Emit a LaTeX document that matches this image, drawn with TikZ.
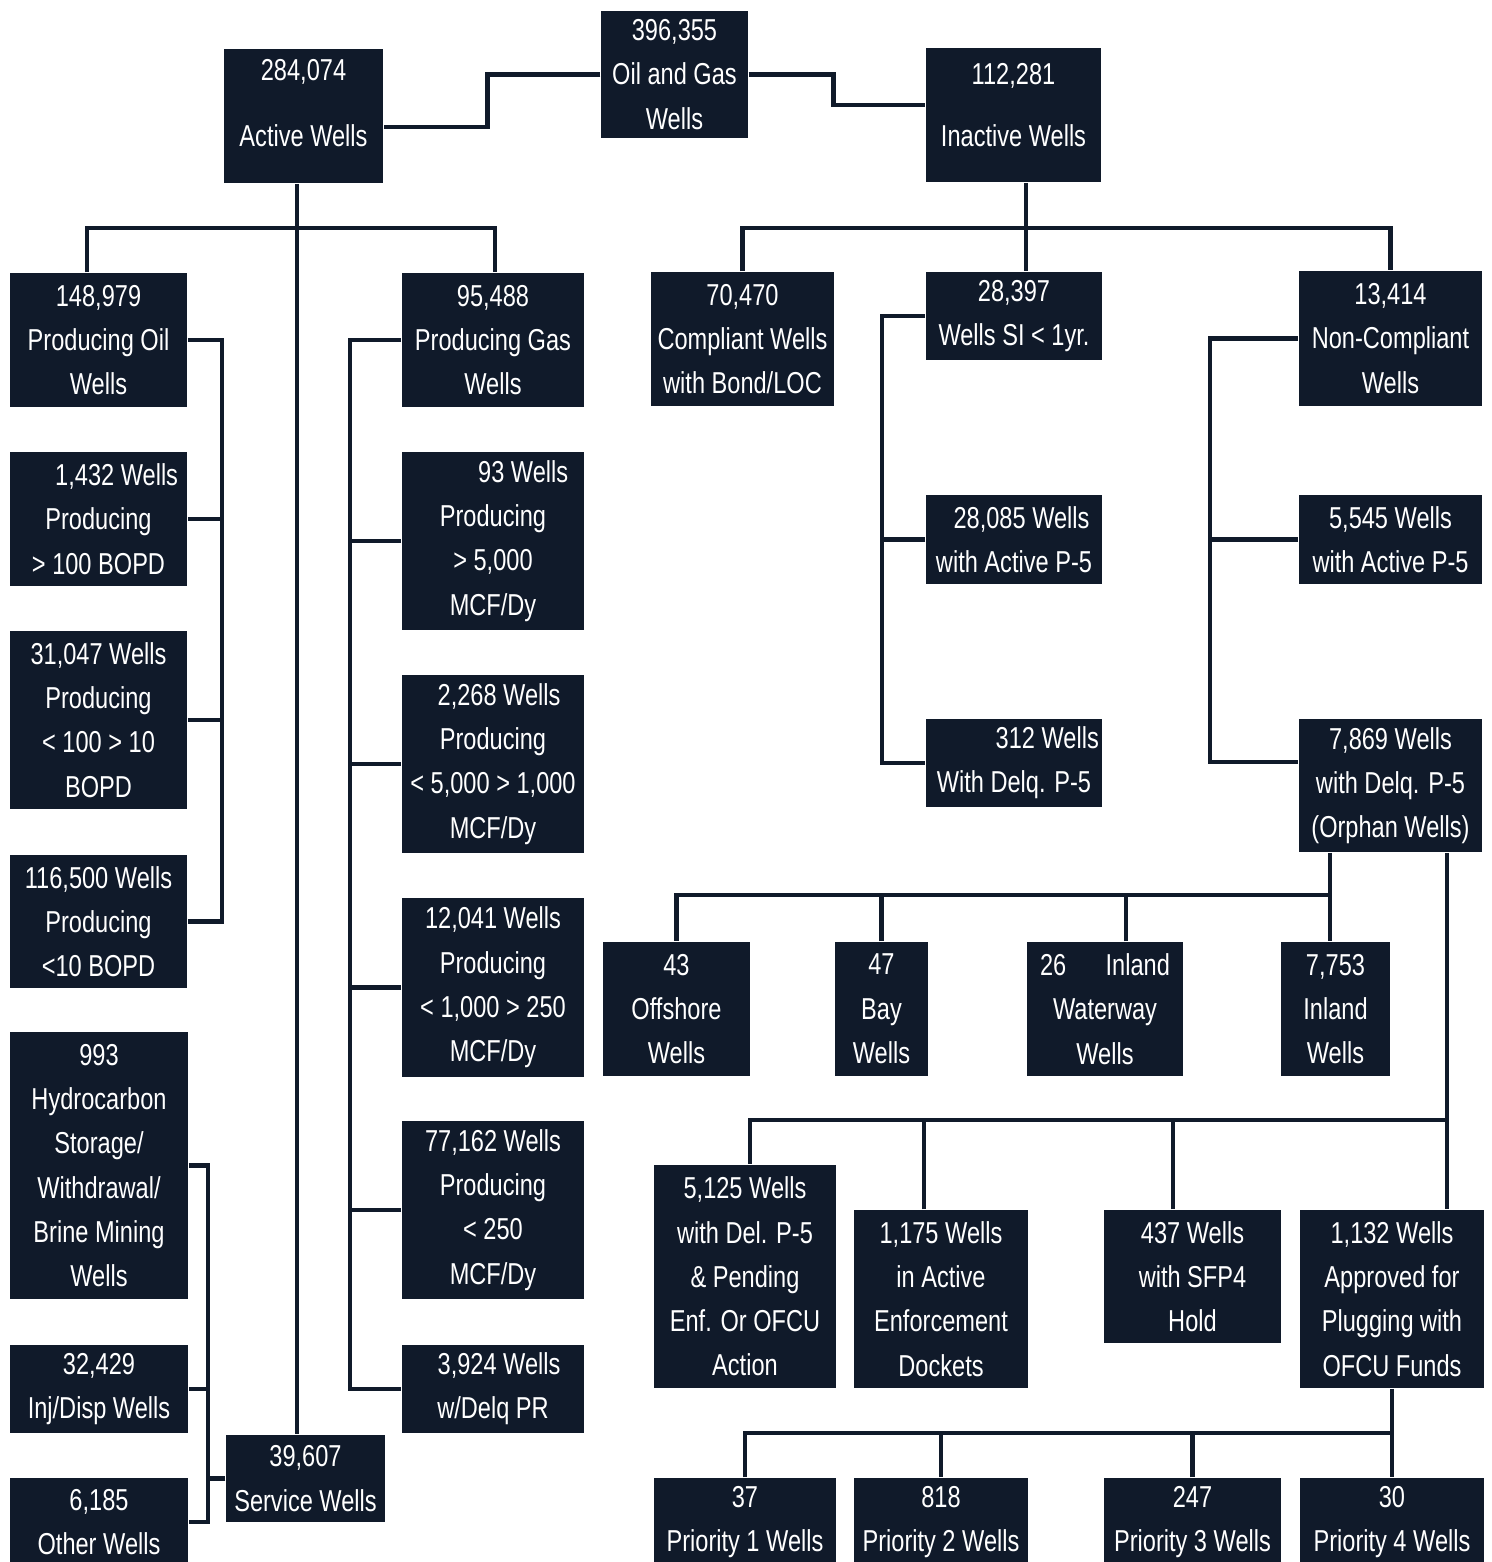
\documentclass[tikz,border=0pt]{standalone}
\usepackage{fontspec}
\setmainfont{Liberation Sans}[FakeStretch=0.78]
\definecolor{navy}{RGB}{16,26,42}

\begin{document}
\begin{tikzpicture}[x=0.01cm,y=-0.01cm,
  well/.style={rectangle,fill=navy,text=white,align=center,inner sep=0pt,
    font=\fontsize{8.6}{12.6}\selectfont},
  link/.style={draw=navy,line width=1.4pt}]

\useasboundingbox (0,0) rectangle (1492,1562);

\node[well,minimum width=1.47cm,minimum height=1.27cm] (root) at (674.5,74.5) {396,355\\Oil and Gas\\Wells};
\node[well,minimum width=1.59cm,minimum height=1.34cm,text depth=0.26cm] (active) at (303.5,116) {284,074\\[6pt]Active Wells};
\node[well,minimum width=1.75cm,minimum height=1.34cm,text depth=0.2cm] (inactive) at (1013.5,115) {112,281\\[5pt]Inactive Wells};

\node[well,minimum width=1.77cm,minimum height=1.34cm] (oil) at (98.5,340) {148,979\\Producing Oil\\Wells};
\node[well,minimum width=1.77cm,minimum height=1.34cm] (o1432) at (98.5,519) {\hspace*{1.2em}1,432 Wells\\Producing\\> 100 BOPD};
\node[well,minimum width=1.77cm,minimum height=1.78cm] (o31047) at (98.5,720) {31,047 Wells\\Producing\\< 100 > 10\\BOPD};
\node[well,minimum width=1.77cm,minimum height=1.33cm] (o116500) at (98.5,921.5) {116,500 Wells\\Producing\\<10 BOPD};
\node[well,minimum width=1.78cm,minimum height=2.67cm] (hydro) at (99,1165.5) {993\\Hydrocarbon\\Storage/\\Withdrawal/\\Brine Mining\\Wells};
\node[well,minimum width=1.78cm,minimum height=0.88cm] (inj) at (99,1389) {32,429\\Inj/Disp Wells};
\node[well,minimum width=1.78cm,minimum height=0.88cm] (other) at (99,1522) {6,185\\Other Wells};
\node[well,minimum width=1.59cm,minimum height=0.87cm] (service) at (305.5,1478.5) {39,607\\Service Wells};

\node[well,minimum width=1.82cm,minimum height=1.34cm] (gas) at (493,340) {95,488\\Producing Gas\\Wells};
\node[well,minimum width=1.82cm,minimum height=1.78cm] (g93) at (493,541) {\hspace*{2em}93 Wells\\Producing\\> 5,000\\MCF/Dy};
\node[well,minimum width=1.82cm,minimum height=1.78cm] (g2268) at (493,764) {\hspace*{0.4em}2,268 Wells\\Producing\\< 5,000 > 1,000\\MCF/Dy};
\node[well,minimum width=1.82cm,minimum height=1.79cm] (g12041) at (493,987.5) {12,041 Wells\\Producing\\< 1,000 > 250\\MCF/Dy};
\node[well,minimum width=1.82cm,minimum height=1.78cm] (g77162) at (493,1210) {77,162 Wells\\Producing\\< 250\\MCF/Dy};
\node[well,minimum width=1.82cm,minimum height=0.88cm] (g3924) at (493,1389) {\hspace*{0.4em}3,924 Wells\\w/Delq PR};

\node[well,minimum width=1.83cm,minimum height=1.34cm] (comp) at (742.5,339) {70,470\\Compliant Wells\\with Bond/LOC};
\node[well,minimum width=1.76cm,minimum height=0.88cm] (si) at (1014,316) {28,397\\Wells SI < 1yr.};
\node[well,minimum width=1.76cm,minimum height=0.89cm] (siact) at (1014,539.5) {\hspace*{0.5em}28,085 Wells\\with Active P-5};
\node[well,minimum width=1.76cm,minimum height=0.88cm] (sidelq) at (1014,763) {\hspace*{2.2em}312 Wells\\With Delq. P-5};
\node[well,minimum width=1.83cm,minimum height=1.35cm] (noncomp) at (1390.5,338.5) {13,414\\Non-Compliant\\Wells};
\node[well,minimum width=1.83cm,minimum height=0.89cm] (ncact) at (1390.5,539.5) {5,545 Wells\\with Active P-5};
\node[well,minimum width=1.83cm,minimum height=1.33cm] (orphan) at (1390.5,785.5) {7,869 Wells\\with Delq. P-5\\(Orphan Wells)};

\node[well,minimum width=1.47cm,minimum height=1.34cm] (offshore) at (676.5,1009) {43\\Offshore\\Wells};
\node[well,minimum width=0.93cm,minimum height=1.34cm] (bay) at (881.5,1009) {47\\Bay\\Wells};
\node[well,minimum width=1.56cm,minimum height=1.34cm] (inlandww) at (1105,1009) {26\hspace{1.3em}Inland\\Waterway\\Wells};
\node[well,minimum width=1.09cm,minimum height=1.34cm] (inland) at (1335.5,1009) {7,753\\Inland\\Wells};

\node[well,minimum width=1.82cm,minimum height=2.23cm] (pending) at (745,1276.5) {5,125 Wells\\with Del. P-5\\\& Pending\\Enf. Or OFCU\\Action};
\node[well,minimum width=1.74cm,minimum height=1.78cm] (docket) at (941,1299) {1,175 Wells\\in Active\\Enforcement\\Dockets};
\node[well,minimum width=1.77cm,minimum height=1.33cm] (sfp) at (1192.5,1276.5) {437 Wells\\with SFP4\\Hold};
\node[well,minimum width=1.84cm,minimum height=1.78cm] (ofcu) at (1392,1299) {1,132 Wells\\Approved for\\Plugging with\\OFCU Funds};

\node[well,minimum width=1.82cm,minimum height=0.88cm] (p1) at (745,1522) {37\\Priority 1 Wells};
\node[well,minimum width=1.74cm,minimum height=0.88cm] (p2) at (941,1522) {818\\Priority 2 Wells};
\node[well,minimum width=1.77cm,minimum height=0.88cm] (p3) at (1192.5,1522) {247\\Priority 3 Wells};
\node[well,minimum width=1.84cm,minimum height=0.88cm] (p4) at (1392,1522) {30\\Priority 4 Wells};

% top level
\draw[link] (root.west) -- ++(-113,0) |- ([yshift=-0.11cm]active.east);
\draw[link] (root.east) -- ++(85,0) |- ([yshift=0.1cm]inactive.west);

% active wells
\coordinate (atrunk) at (297,228);
\draw[link] (active.south -| atrunk) -- (service.north -| atrunk);
\draw[link] ([xshift=-0.115cm]oil.north) |- (atrunk) -| ([xshift=0.02cm]gas.north);

\coordinate (obus) at (222,0);
\draw[link] (oil.east) -- (oil.east -| obus) |- (o116500.east);
\foreach \n in {o1432,o31047}
  \draw[link] (\n.east) -- (\n.east -| obus);

\coordinate (gbus) at (350,0);
\draw[link] (gas.west) -- (gas.west -| gbus) |- (g3924.west);
\foreach \n in {g93,g2268,g12041,g77162}
  \draw[link] (\n.west) -- (\n.west -| gbus);

\coordinate (sbus) at (208,0);
\draw[link] (hydro.east) -- (hydro.east -| sbus) |- (other.east);
\draw[link] (inj.east) -- (inj.east -| sbus);
\draw[link] (service.west) -- (service.west -| sbus);

% inactive wells
\coordinate (itrunk) at (1026,228);
\draw[link] (inactive.south -| itrunk) -- (si.north -| itrunk);
\draw[link] (comp.north) |- (itrunk) -| (noncomp.north);

\coordinate (sibus) at (882,0);
\draw[link] (si.west) -- (si.west -| sibus) |- (sidelq.west);
\draw[link] (siact.west) -- (siact.west -| sibus);

\coordinate (ncbus) at (1210,0);
\draw[link] (noncomp.west) -- (noncomp.west -| ncbus) |- ([yshift=0.235cm]orphan.west);
\draw[link] (ncact.west) -- (ncact.west -| ncbus);

% orphan wells
\coordinate (lbus) at (1330,895);
\draw[link] (orphan.south -| lbus) -- (lbus) -| (offshore.north);
\draw[link] (lbus) -- (inland.north -| lbus);
\draw[link] (bay.north) -- (bay.north |- lbus);
\draw[link] (inlandww.north -| 1126,0) -- (lbus -| 1126,0);

\coordinate (rbus) at (1447,1120);
\draw[link] (orphan.south -| rbus) -- (ofcu.north -| rbus);
\draw[link] (rbus) -| (pending.north -| 750,0);
\foreach \n/\x in {docket/924,sfp/1173}
  \draw[link] (\n.north -| \x,0) -- (rbus -| \x,0);

\coordinate (pbus) at (0,1433);
\draw[link] (ofcu.south) -- (p4.north);
\draw[link] (p1.north) |- (ofcu.south |- pbus);
\foreach \n in {p2,p3}
  \draw[link] (\n.north) -- (\n.north |- pbus);
\end{tikzpicture}
\end{document}
